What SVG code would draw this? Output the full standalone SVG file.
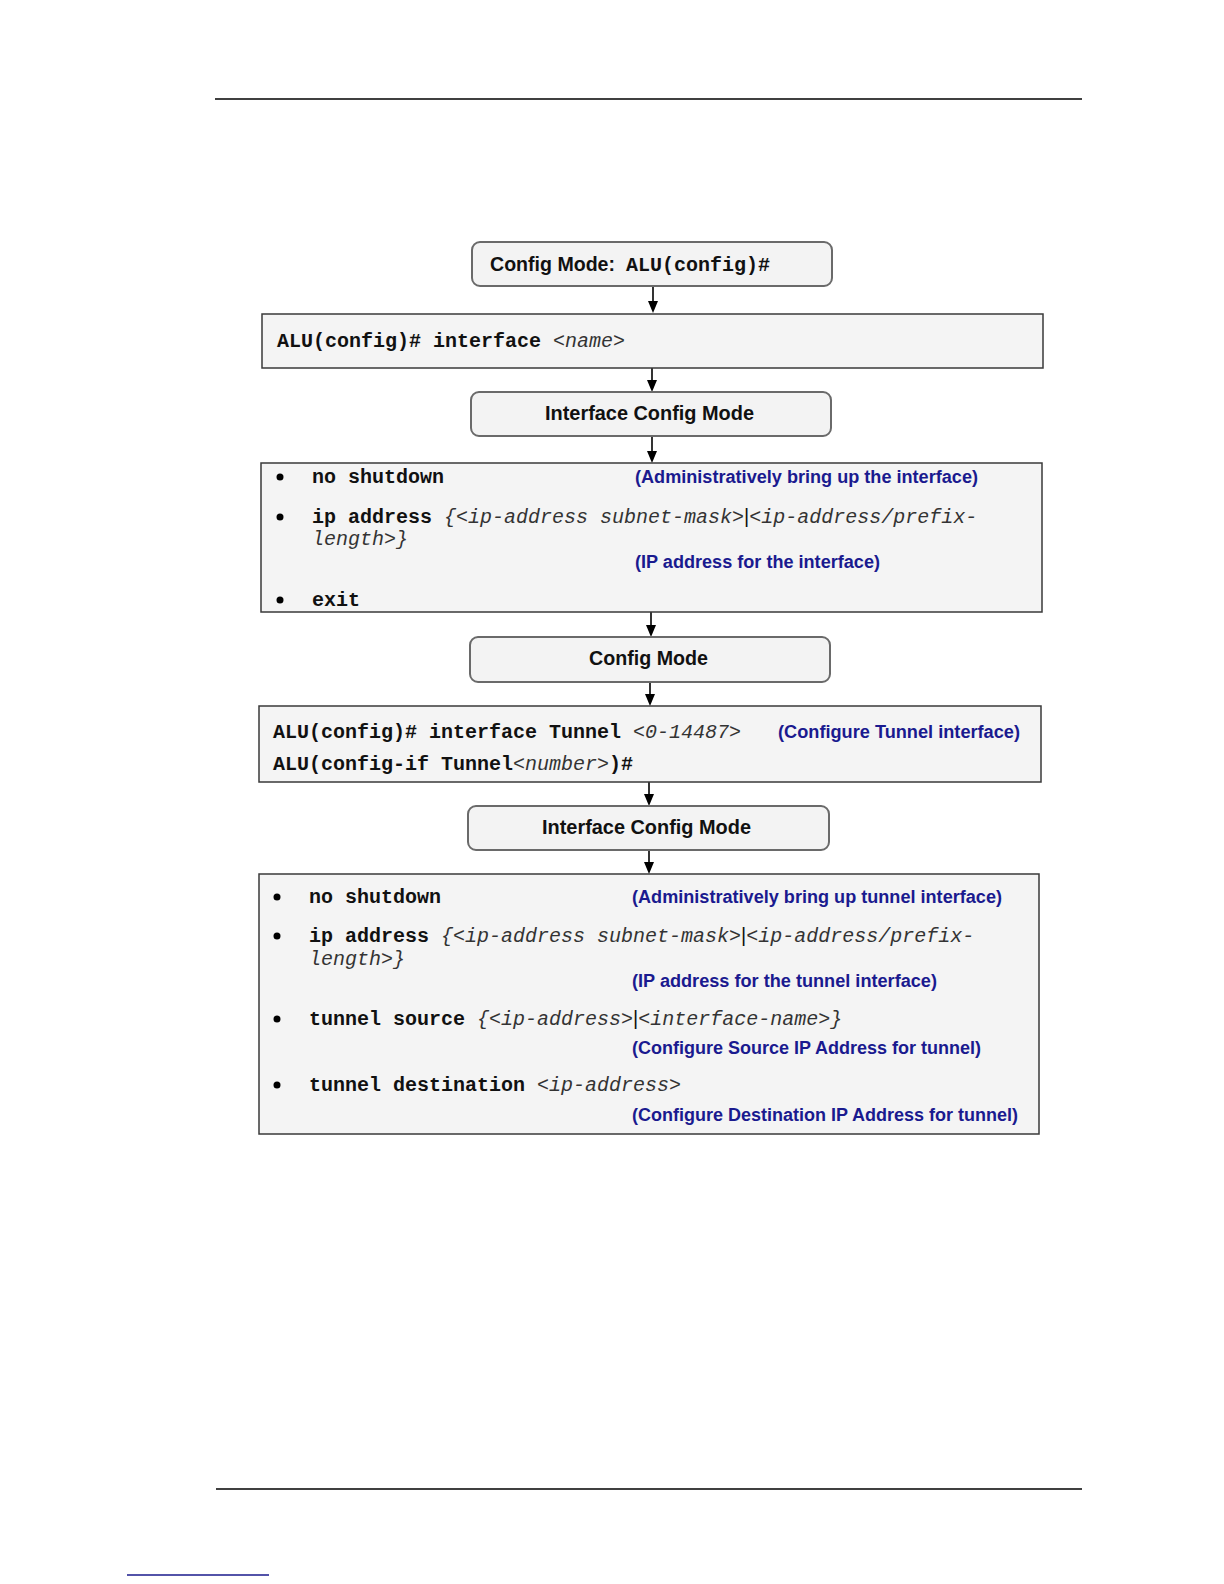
<svg xmlns="http://www.w3.org/2000/svg" width="1224" height="1584" viewBox="0 0 1224 1584">
<defs>
<style>
.rbox{fill:#f3f3f3;stroke:#6a6a6a;stroke-width:2}
.box{fill:#f4f4f4;stroke:#3a3a3a;stroke-width:1.5}
.title{font-family:"Liberation Sans",Arial,sans-serif;font-weight:bold;font-size:21px;fill:#111}
.mono{font-family:"Liberation Mono","Courier New",monospace;font-size:20px;font-weight:bold;fill:#111}
.it{font-weight:normal;font-style:italic;fill:#333}
.bar{font-family:"Liberation Sans",Arial,sans-serif;font-weight:normal;font-style:normal}
.note{font-family:"Liberation Sans",Arial,sans-serif;font-weight:bold;font-size:18px;fill:#1a1a8f}
.conn{stroke:#000;stroke-width:1.6;fill:none}
.rule{stroke:#000;stroke-width:1.5}
</style>
</defs>
<rect width="1224" height="1584" fill="#fff"/>
<line class="rule" x1="215" y1="99" x2="1082" y2="99"/>
<line class="rule" x1="216" y1="1489" x2="1082" y2="1489"/>
<line x1="127" y1="1575" x2="269" y2="1575" stroke="#1a1a8c" stroke-width="1.5"/>

<g id="connectors">
<line class="conn" x1="653" y1="286" x2="653" y2="301"/><path d="M648,301 L658,301 L653,313 Z"/>
<line class="conn" x1="652" y1="368" x2="652" y2="380"/><path d="M647,380 L657,380 L652,392 Z"/>
<line class="conn" x1="652" y1="436" x2="652" y2="451"/><path d="M647,451 L657,451 L652,463 Z"/>
<line class="conn" x1="651" y1="612" x2="651" y2="625"/><path d="M646,625 L656,625 L651,637 Z"/>
<line class="conn" x1="650" y1="682" x2="650" y2="694"/><path d="M645,694 L655,694 L650,706 Z"/>
<line class="conn" x1="649" y1="782" x2="649" y2="794"/><path d="M644,794 L654,794 L649,806 Z"/>
<line class="conn" x1="649" y1="850" x2="649" y2="862"/><path d="M644,862 L654,862 L649,874 Z"/>
</g>

<g id="config-mode-1">
<rect class="rbox" x="472" y="242" width="360" height="44" rx="8"/>
<text class="title" x="490" y="271" textLength="125" lengthAdjust="spacingAndGlyphs">Config Mode:</text>
<text class="mono" x="626" y="271">ALU(config)#</text>
</g>

<g id="interface-cmd">
<rect class="box" x="262" y="314" width="781" height="54"/>
<text class="mono" x="277" y="347">ALU(config)# interface <tspan class="it">&lt;name&gt;</tspan></text>
</g>

<g id="interface-config-mode-1">
<rect class="rbox" x="471" y="392" width="360" height="44" rx="8"/>
<text class="title" x="545" y="420" textLength="209" lengthAdjust="spacingAndGlyphs">Interface Config Mode</text>
</g>

<g id="interface-settings">
<rect class="box" x="261" y="463" width="781" height="149"/>
<circle cx="280" cy="477" r="3.5"/>
<text class="mono" x="312" y="483">no shutdown</text>
<text class="note" x="635" y="483" textLength="343" lengthAdjust="spacingAndGlyphs">(Administratively bring up the interface)</text>
<circle cx="280" cy="517" r="3.5"/>
<text class="mono" x="312" y="523">ip address <tspan class="it">{&lt;ip-address subnet-mask&gt;</tspan><tspan class="bar">|</tspan><tspan class="it">&lt;ip-address/prefix-</tspan></text>
<text class="mono" x="312" y="545"><tspan class="it">length&gt;}</tspan></text>
<text class="note" x="635" y="568" textLength="245" lengthAdjust="spacingAndGlyphs">(IP address for the interface)</text>
<circle cx="280" cy="600" r="3.5"/>
<text class="mono" x="312" y="606">exit</text>
</g>

<g id="config-mode-2">
<rect class="rbox" x="470" y="637" width="360" height="45" rx="8"/>
<text class="title" x="589" y="665" textLength="119" lengthAdjust="spacingAndGlyphs">Config Mode</text>
</g>

<g id="tunnel-cmd">
<rect class="box" x="259" y="706" width="782" height="76"/>
<text class="mono" x="273" y="738">ALU(config)# interface Tunnel <tspan class="it">&lt;0-14487&gt;</tspan></text>
<text class="note" x="778" y="738" textLength="242" lengthAdjust="spacingAndGlyphs">(Configure Tunnel interface)</text>
<text class="mono" x="273" y="770">ALU(config-if Tunnel<tspan class="it">&lt;number&gt;</tspan>)#</text>
</g>

<g id="interface-config-mode-2">
<rect class="rbox" x="468" y="806" width="361" height="44" rx="8"/>
<text class="title" x="542" y="834" textLength="209" lengthAdjust="spacingAndGlyphs">Interface Config Mode</text>
</g>

<g id="tunnel-settings">
<rect class="box" x="259" y="874" width="780" height="260"/>
<circle cx="277" cy="897" r="3.5"/>
<text class="mono" x="309" y="903">no shutdown</text>
<text class="note" x="632" y="903" textLength="370" lengthAdjust="spacingAndGlyphs">(Administratively bring up tunnel interface)</text>
<circle cx="277" cy="936" r="3.5"/>
<text class="mono" x="309" y="942">ip address <tspan class="it">{&lt;ip-address subnet-mask&gt;</tspan><tspan class="bar">|</tspan><tspan class="it">&lt;ip-address/prefix-</tspan></text>
<text class="mono" x="309" y="965"><tspan class="it">length&gt;}</tspan></text>
<text class="note" x="632" y="987" textLength="305" lengthAdjust="spacingAndGlyphs">(IP address for the tunnel interface)</text>
<circle cx="277" cy="1019" r="3.5"/>
<text class="mono" x="309" y="1025">tunnel source <tspan class="it">{&lt;ip-address&gt;</tspan><tspan class="bar">|</tspan><tspan class="it">&lt;interface-name&gt;}</tspan></text>
<text class="note" x="632" y="1054" textLength="349" lengthAdjust="spacingAndGlyphs">(Configure Source IP Address for tunnel)</text>
<circle cx="277" cy="1085" r="3.5"/>
<text class="mono" x="309" y="1091">tunnel destination <tspan class="it">&lt;ip-address&gt;</tspan></text>
<text class="note" x="632" y="1121" textLength="386" lengthAdjust="spacingAndGlyphs">(Configure Destination IP Address for tunnel)</text>
</g>
</svg>
